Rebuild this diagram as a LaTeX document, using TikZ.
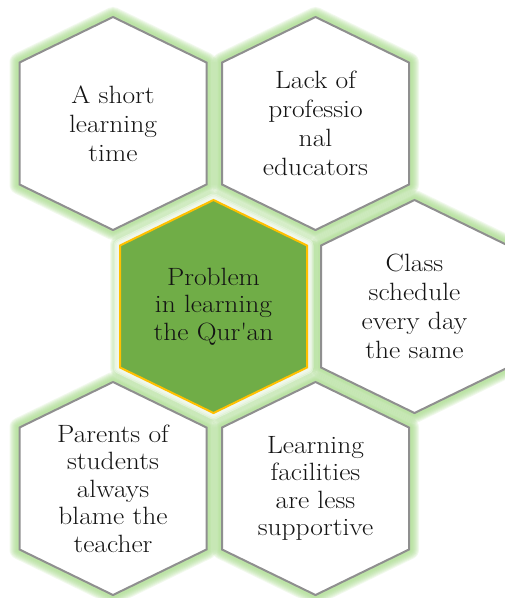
\documentclass[tikz,border=0pt]{standalone}
\usepackage{fontspec}
\setmainfont{Latin Modern Roman}[FakeStretch=1.1]
\definecolor{glowgreen}{HTML}{A8DD8C}
\definecolor{hexedge}{HTML}{8F8F8F}
\definecolor{corefill}{HTML}{70AD47}
\definecolor{coreedge}{HTML}{FFC000}
\definecolor{inktext}{HTML}{141414}
% hexagon outline around the local origin (pointy top and bottom)
\newcommand\hexoutline{(-93.5,-61) -- (0,-106.5) -- (93.5,-61) -- (93.5,61) -- (0,106.5) -- (-93.5,61) -- cycle}
\begin{document}
\begin{tikzpicture}[x=1pt,y=-1pt,
  halo/.style={draw=glowgreen, line join=round, opacity=0.16},
  whitehalo/.style={draw=white, line join=round, opacity=0.4},
  cellbox/.style={fill=white, draw=hexedge, line width=2pt, line join=miter},
  corebox/.style={fill=corefill, draw=coreedge, line width=2pt, line join=miter},
  celltext/.style={align=center, text=inktext, inner sep=0pt,
    font=\fontsize{25}{29}\selectfont},
  coretext/.style={celltext, font=\fontsize{25}{27.5}\selectfont}]
\clip (0,0) rectangle (505,598);
\fill[white] (0,0) rectangle (505,598);

% cell centres
\coordinate (c1) at (113,123.5);
\coordinate (c2) at (315.5,123.5);
\coordinate (c3) at (213.5,306.5);
\coordinate (c4) at (414.5,306.5);
\coordinate (c5) at (113,488.5);
\coordinate (c6) at (315.5,488.5);

% soft green glow behind every cell
\foreach \c in {c1,c2,c3,c4,c5,c6}{
  \foreach \w in {20,18,16,14,12,10,8,6}{
    \draw[halo, line width=\w pt, shift={(\c)}] \hexoutline;
  }
}
% white inner glow around the central cell
\foreach \w in {13,10,7}{
  \draw[whitehalo, line width=\w pt, shift={(c3)}] \hexoutline;
}

% cells
\foreach \c in {c1,c2,c4,c5,c6}{
  \draw[cellbox, shift={(\c)}] \hexoutline;
}
\draw[corebox, shift={(c3)}] \hexoutline;

% labels
\node[celltext] (t1) at (c1) {A short\\learning\\time};
\node[celltext] (t2) at (c2) {Lack of\\professio\\nal\\educators};
\node[coretext] (t3) at (c3) {Problem\\in learning\\the Qur\textquotesingle an};
\node[celltext] (t4) at (c4) {Class\\schedule\\every day\\the same};
\node[coretext] (t5) at (c5) {Parents of\\students\\always\\blame the\\teacher};
\node[coretext] (t6) at (c6) {Learning\\facilities\\are less\\supportive};
\end{tikzpicture}
\end{document}
